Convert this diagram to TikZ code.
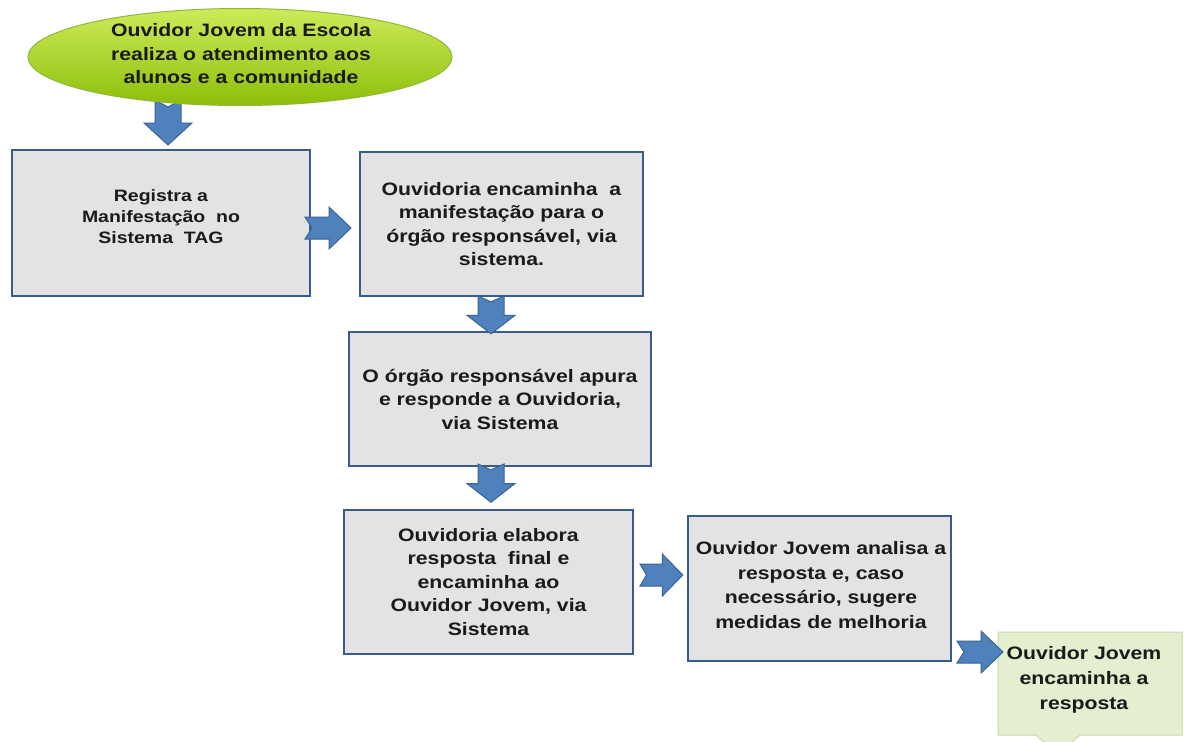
\documentclass[tikz,border=0pt]{standalone}
\usepackage{fontspec}
\setmainfont{Liberation Sans}[FakeStretch=1.18]
\usetikzlibrary{shapes.geometric,calc}
\definecolor{boxfill}{HTML}{E3E3E3}
\definecolor{boxline}{HTML}{385D8A}
\definecolor{arrfill}{HTML}{4F81BD}
\definecolor{arrline}{HTML}{3A6396}
\definecolor{greentop}{HTML}{CDEB5A}
\definecolor{greenmid}{HTML}{A8D614}
\definecolor{greenbot}{HTML}{8DBF0A}
\definecolor{greenline}{HTML}{8FB83A}
\definecolor{callfill}{HTML}{E4EFCF}
\definecolor{callline}{HTML}{C9D9AA}
\definecolor{txt}{HTML}{1A1A1A}
\tikzset{
  stepbox/.style={rectangle, fill=boxfill, draw=boxline, line width=2.5pt, align=center,
    text=txt, font=\bfseries\fontsize{18}{23.5}\selectfont, inner sep=0pt},
  arrowstyle/.style={fill=arrfill, draw=arrline, line width=1pt, line join=miter},
  pics/rarrow/.style={code={\draw[arrowstyle] (0,-11) -- (24,-11) -- (24,-21) -- (46,0) -- (24,21) -- (24,11) -- (0,11) -- (7,0) -- cycle;}},
  pics/darrow/.style={code={\draw[arrowstyle] (-13,0) -- (-13,23) -- (-24,23) -- (0,45) -- (24,23) -- (13,23) -- (13,0) -- (0,7) -- cycle;}}
}
\begin{document}
\begin{tikzpicture}[x=1pt,y=-1pt]
\useasboundingbox (0,0) rectangle (1184,742);
\fill[white] (0,0) rectangle (1184,742);
% first arrow lies behind the ellipse
\pic at (168,100) {darrow};
% top ellipse
\node[ellipse, minimum width=424pt, minimum height=97pt, top color=greentop, middle color=greenmid,
  bottom color=greenbot, draw=greenline, line width=1pt] (e) at (240,57) {};
\node[align=center, text=txt, font=\bfseries\fontsize{18}{23.5}\selectfont] (et) at (241,54)
  {Ouvidor Jovem da Escola\\realiza o atendimento aos\\alunos e a comunidade};
% boxes
\node[stepbox, minimum width=298pt, minimum height=146pt] (b1) at (161,223) {};
\node[align=center, text=txt, font=\bfseries\fontsize{16.5}{21}\selectfont] (b1t) at (161,217)
  {Registra a\\Manifestação\ \ no\\Sistema\ \ TAG};
\node[stepbox, minimum width=283pt, minimum height=144pt] (b2) at (501.5,224)
  {Ouvidoria encaminha\ \ a\\manifestação para o\\órgão responsável, via\\sistema.};
\node[stepbox, minimum width=302pt, minimum height=134pt] (b3) at (500,399)
  {O órgão responsável apura\\e responde a Ouvidoria,\\via Sistema};
\node[stepbox, minimum width=289pt, minimum height=144pt] (b4) at (488.5,582)
  {Ouvidoria elabora\\resposta\ \ final e\\encaminha ao\\Ouvidor Jovem, via\\Sistema};
\node[stepbox, minimum width=263pt, minimum height=145pt] (b5) at (819.5,588.5) {};
\node[align=center, text=txt, font=\bfseries\fontsize{18}{24.5}\selectfont] (b5t) at (821,585)
  {Ouvidor Jovem analisa a\\resposta e, caso\\necessário, sugere\\medidas de melhoria};
% callout
\draw[fill=callfill, draw=callline, line width=1pt]
  (998,632) -- (1182,632) -- (1182,735) -- (1080,735) -- (1068,746) -- (1048,746) -- (1036,735) -- (998,735) -- cycle;
\node[align=center, text=txt, font=\bfseries\fontsize{18}{25}\selectfont] (b6) at (1084,680)
  {Ouvidor Jovem\\encaminha a\\resposta};
% block arrows
\pic at (305,228) {rarrow};
\pic[yscale=0.84] at (491,296) {darrow};
\pic[yscale=0.85] at (491,464) {darrow};
\pic[xscale=0.93] at (640,575) {rarrow};
\pic at (957,652) {rarrow};
\end{tikzpicture}
\end{document}
